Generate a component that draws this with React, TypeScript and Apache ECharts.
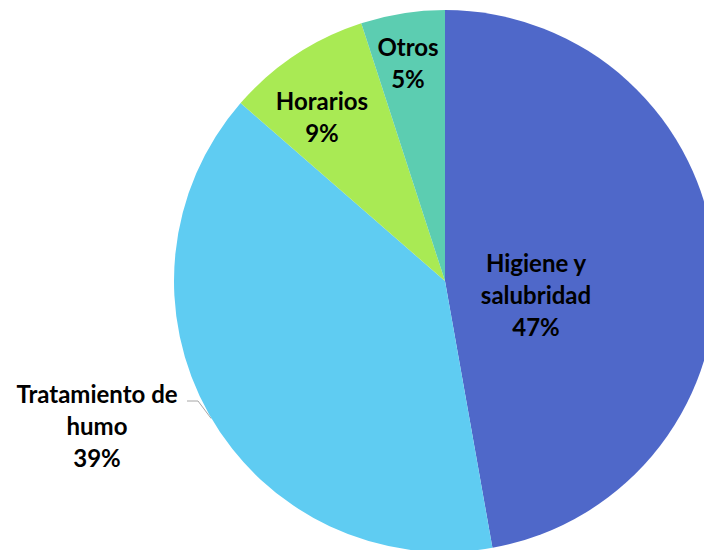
import React, { useEffect, useRef } from "react";
import * as echarts from "echarts";

const categories = ["Higiene y salubridad", "Tratamiento de humo", "Horarios", "Otros"];
const labelTexts = ["Higiene y\nsalubridad", "Tratamiento de\nhumo", "Horarios", "Otros"];
const values = [47.2, 39.2, 8.6, 5.0];
const colors = ["#4F68C9", "#5FCCF2", "#A9EA54", "#5CCDB1"];

// layout (pixel offsets of each label centre from the pie centre)
const CX = 445;
const CY = 281;
const R = 271;
const labelOffsets = [
  [91, 13],
  [-348, 144],
  [-123, -165],
  [-37, -219],
];

export default function App() {
  const ref = useRef<HTMLDivElement>(null);
  useEffect(() => {
    document.body.style.margin = "0";
    const chart = echarts.init(ref.current!, undefined, { renderer: "svg" });
    const total = values.reduce((a, b) => a + b, 0);
    chart.setOption({
      animation: false,
      backgroundColor: "#ffffff",
      series: [
        {
          type: "pie",
          center: [CX, CY],
          radius: R,
          startAngle: 90,
          clockwise: true,
          avoidLabelOverlap: false,
          itemStyle: { borderWidth: 0 },
          label: {
            show: true,
            position: "inside",
            formatter: (p: any) => `${labelTexts[p.dataIndex]}\n${Math.round((p.value / total) * 100)}%`,
            fontFamily: "Lato",
            fontWeight: "bold",
            fontSize: 24,
            lineHeight: 32,
            color: "#000000",
            align: "center",
          },
          labelLine: { show: false },
          labelLayout: (params: any) => {
            const i = params.dataIndex;
            const x = CX + labelOffsets[i][0];
            const y = CY + labelOffsets[i][1];
            const out: any = { x, y, align: "center", verticalAlign: "middle" };
            if (i === 1 && params.labelLinePoints) {
              const start = params.labelLinePoints[0];
              out.labelLinePoints = [
                [start[0] + 2, start[1] + 4],
                [x + 101, y - 24],
                [x + 90, y - 24],
              ];
            }
            return out;
          },
          data: categories.map((name, i) => ({
            name,
            value: values[i],
            itemStyle: { color: colors[i] },
            ...(i === 1
              ? {
                  label: { position: "outside" },
                  labelLine: {
                    show: true,
                    length: 10,
                    length2: 10,
                    lineStyle: { color: "#A6A6A6", width: 1 },
                  },
                }
              : {}),
          })),
        },
      ],
    });
    return () => chart.dispose();
  }, []);
  return <div ref={ref} style={{ position: "fixed", left: 0, top: 0, width: 704, height: 550 }} />;
}
